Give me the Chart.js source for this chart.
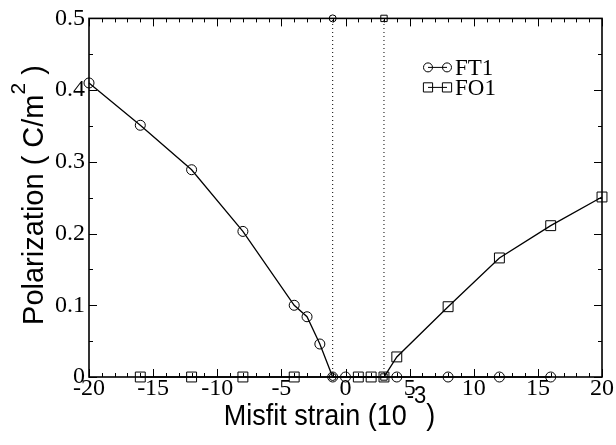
<!DOCTYPE html>
<html>
<head>
<meta charset="utf-8">
<title>Polarization vs misfit strain</title>
<script src="https://cdn.jsdelivr.net/npm/chart.js@4.4.1/dist/chart.umd.min.js"></script>
<style>
  html, body { margin: 0; padding: 0; background: #fff; }
  canvas { display: block; }
</style>
</head>
<body>
<canvas id="chart" width="616" height="445"></canvas>
<script>
// --- data ---
const ft1Strain = [-20, -16, -12, -8, -4, -3, -2, -1, 0, 4, 8, 12, 16];
const ft1Polar  = [0.41, 0.351, 0.289, 0.203, 0.1, 0.084, 0.046, 0, 0, 0, 0, 0, 0];
const fo1Strain = [-16, -12, -8, -4, 1, 2, 3, 4, 8, 12, 16, 20];
const fo1Polar  = [0, 0, 0, 0, 0, 0, 0, 0.028, 0.098, 0.166, 0.211, 0.251];
// phase boundaries (dotted verticals)
const boundaryStrain = [-1, 3];
const boundaryStyle = ['circle', 'rect'];

// axes
const xRange = [-20, 20];
const yRange = [0, 0.5];
const xMajor = 5, xMinor = 1;
const yMajor = 0.1, yMinor = 0.05;

const serif = '"Liberation Serif", "Times New Roman", serif';
const sans = '"Liberation Sans", Arial, Helvetica, sans-serif';

function toPoints(xs, ys) {
    return xs.map((x, i) => ({ x: x, y: ys[i] }));
}

// draw a string made of parts (text with optional superscript offset)
function drawRich(ctx, parts, x, y) {
    let total = 0;
    parts.forEach(p => {
        ctx.font = p.size + 'px ' + sans;
        p.w = ctx.measureText(p.text).width;
        total += p.w;
    });
    let cx = x - total / 2;
    parts.forEach(p => {
        ctx.font = p.size + 'px ' + sans;
        ctx.fillText(p.text, cx, y + (p.dy || 0));
        cx += p.w;
    });
}

// --- frame with inward ticks on all four sides ---
const framePlugin = {
    id: 'frame',
    afterDatasetsDraw(chart) {
        const ctx = chart.ctx;
        const a = chart.chartArea;
        const xs = chart.scales.x, ys = chart.scales.y;
        ctx.save();
        ctx.strokeStyle = '#000';
        ctx.lineWidth = 1;
        ctx.beginPath();
        const nx = Math.round((xRange[1] - xRange[0]) / xMinor);
        for (let i = 0; i <= nx; i++) {
            const v = xRange[0] + i * xMinor;
            const len = (Math.abs(v % xMajor) < 1e-9) ? 8 : 4;
            const px = Math.round(xs.getPixelForValue(v)) + 0.5;
            ctx.moveTo(px, a.bottom); ctx.lineTo(px, a.bottom - len);
            ctx.moveTo(px, a.top); ctx.lineTo(px, a.top + len);
        }
        const ny = Math.round((yRange[1] - yRange[0]) / yMinor);
        for (let i = 0; i <= ny; i++) {
            const len = (i % Math.round(yMajor / yMinor) === 0) ? 8 : 4;
            const py = Math.round(ys.getPixelForValue(yRange[0] + i * yMinor)) + 0.5;
            ctx.moveTo(a.left, py); ctx.lineTo(a.left + len, py);
            ctx.moveTo(a.right, py); ctx.lineTo(a.right - len, py);
        }
        ctx.stroke();
        ctx.lineWidth = 1.6;
        ctx.strokeRect(a.left, a.top, a.right - a.left, a.bottom - a.top);
        ctx.restore();
    }
};

// --- axis titles with superscripts ---
const titlePlugin = {
    id: 'titles',
    afterDraw(chart) {
        const ctx = chart.ctx;
        const a = chart.chartArea;
        ctx.save();
        ctx.fillStyle = '#000';
        ctx.textBaseline = 'alphabetic';
        ctx.textAlign = 'left';

        ctx.save();
        ctx.translate((a.left + a.right) / 2 - 16, 425);
        ctx.scale(1, 1.12);
        drawRich(ctx, [
            { text: 'Misfit strain (10', size: 27 },
            { text: '-3', size: 22, dy: -20 },
            { text: ')', size: 27 }
        ], 0, 0);
        ctx.restore();

        ctx.save();
        ctx.translate(43, 195);
        ctx.rotate(-Math.PI / 2);
        drawRich(ctx, [
            { text: 'Polarization ( C/m', size: 29 },
            { text: '2', size: 21, dy: -18 },
            { text: ' )', size: 29 }
        ], 0, 0);
        ctx.restore();
        ctx.restore();
    }
};

// --- legend: line with a symbol at each end ---
const legendPlugin = {
    id: 'symLegend',
    afterDraw(chart) {
        const ctx = chart.ctx;
        const a = chart.chartArea;
        const items = [
            { label: 'FT1', style: 'circle', radius: 4.5, y: a.top + 49 },
            { label: 'FO1', style: 'rect', radius: 6.5, y: a.top + 69 }
        ];
        const x0 = a.right - 174, x1 = a.right - 155;
        ctx.save();
        items.forEach(it => {
            ctx.strokeStyle = '#000';
            ctx.fillStyle = 'rgba(0,0,0,0)';
            ctx.lineWidth = 1;
            ctx.beginPath();
            ctx.moveTo(x0, it.y); ctx.lineTo(x1, it.y);
            ctx.stroke();
            [x0, x1].forEach(px => {
                Chart.helpers.drawPoint(ctx, { pointStyle: it.style, radius: it.radius, borderWidth: 1 }, px, it.y);
            });
            ctx.fillStyle = '#000';
            ctx.font = '23px ' + serif;
            ctx.textBaseline = 'alphabetic';
            ctx.fillText(it.label, x1 + 8, it.y + 8);
        });
        ctx.restore();
    }
};

const boundarySets = boundaryStrain.map((s, i) => ({
    label: 'boundary' + i,
    data: [{ x: s, y: yRange[0] }, { x: s, y: yRange[1] }],
    showLine: true,
    borderColor: '#000',
    borderWidth: 1,
    borderDash: [1, 3],
    pointStyle: boundaryStyle[i],
    pointRadius: boundaryStyle[i] === 'rect' ? 4.5 : 3.5,
    pointBorderColor: '#000',
    pointBackgroundColor: 'rgba(0,0,0,0)',
    pointBorderWidth: 1,
    clip: false
}));

new Chart(document.getElementById('chart'), {
    type: 'scatter',
    data: {
        datasets: [
            {
                label: 'FT1',
                data: toPoints(ft1Strain, ft1Polar),
                showLine: true,
                borderColor: '#000',
                borderWidth: 1.3,
                pointStyle: 'circle',
                pointRadius: 5,
                pointBorderColor: '#000',
                pointBackgroundColor: 'rgba(0,0,0,0)',
                pointBorderWidth: 1,
                clip: false
            },
            {
                label: 'FO1',
                data: toPoints(fo1Strain, fo1Polar),
                showLine: true,
                borderColor: '#000',
                borderWidth: 1.3,
                pointStyle: 'rect',
                pointRadius: 7,
                pointBorderColor: '#000',
                pointBackgroundColor: 'rgba(0,0,0,0)',
                pointBorderWidth: 1,
                clip: false
            },
            ...boundarySets
        ]
    },
    options: {
        responsive: false,
        animation: false,
        events: [],
        layout: { padding: { top: 18, right: 14, left: 0, bottom: 0 } },
        plugins: {
            legend: { display: false },
            tooltip: { enabled: false }
        },
        scales: {
            x: {
                type: 'linear',
                min: xRange[0],
                max: xRange[1],
                afterFit: (scale) => { scale.height = 68; },
                grid: { display: false, drawTicks: false },
                border: { display: false },
                ticks: {
                    stepSize: xMajor,
                    padding: -3,
                    color: '#000',
                    font: { family: serif, size: 24 },
                    callback: (v) => String(v)
                }
            },
            y: {
                type: 'linear',
                min: yRange[0],
                max: yRange[1],
                afterFit: (scale) => { scale.width = 89; },
                grid: { display: false, drawTicks: false },
                border: { display: false },
                ticks: {
                    stepSize: yMajor,
                    padding: 4,
                    color: '#000',
                    font: { family: serif, size: 24 },
                    callback: (v) => String(Number(v.toFixed(2)))
                }
            }
        }
    },
    plugins: [framePlugin, titlePlugin, legendPlugin]
});
</script>
</body>
</html>
